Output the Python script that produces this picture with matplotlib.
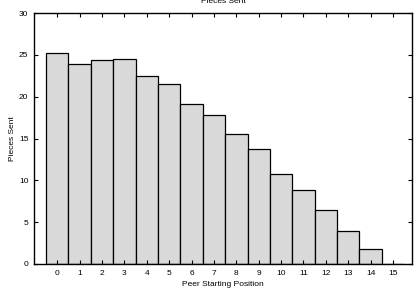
import matplotlib
matplotlib.use('Agg')
import matplotlib.pyplot as plt

# peer position vs. pieces sent
positions = list(range(16))
pieces_sent = [25.25, 23.85, 24.4, 24.45, 22.5, 21.55, 19.1, 17.8,
               15.5, 13.7, 10.7, 8.8, 6.4, 4.0, 1.75, 0.0]
y_ticks = [0, 5, 10, 15, 20, 25, 30]


def main():
    plt.rcParams['font.family'] = ['Liberation Sans', 'DejaVu Sans']
    fig = plt.figure(figsize=(4.18, 2.94), dpi=100)
    ax = fig.add_axes([34 / 418, 1 - 264 / 294, 378 / 418, 251 / 294])

    ax.bar(positions, pieces_sent, width=1.0, color='#d9d9d9',
           edgecolor='black', linewidth=0.9)

    ax.set_xlim(-1.04, 15.85)
    ax.set_ylim(0, 30)
    ax.set_xticks(positions)
    ax.set_yticks(y_ticks)
    ax.tick_params(direction='in', length=3, width=0.8, labelsize=6,
                   top=True, right=True, pad=4, colors='black')
    for s in ax.spines.values():
        s.set_linewidth(1.0)

    ax.set_xlabel('Peer Starting Position', fontsize=6, labelpad=3)
    ax.set_ylabel('Pieces Sent', fontsize=6)
    ax.yaxis.set_label_coords(-0.047, 0.5)
    fig.text(223 / 418, 1 - 1.5 / 294, 'Pieces Sent', ha='center',
             va='center', fontsize=6)

    fig.savefig('out.png', dpi=100)


if __name__ == '__main__':
    main()
